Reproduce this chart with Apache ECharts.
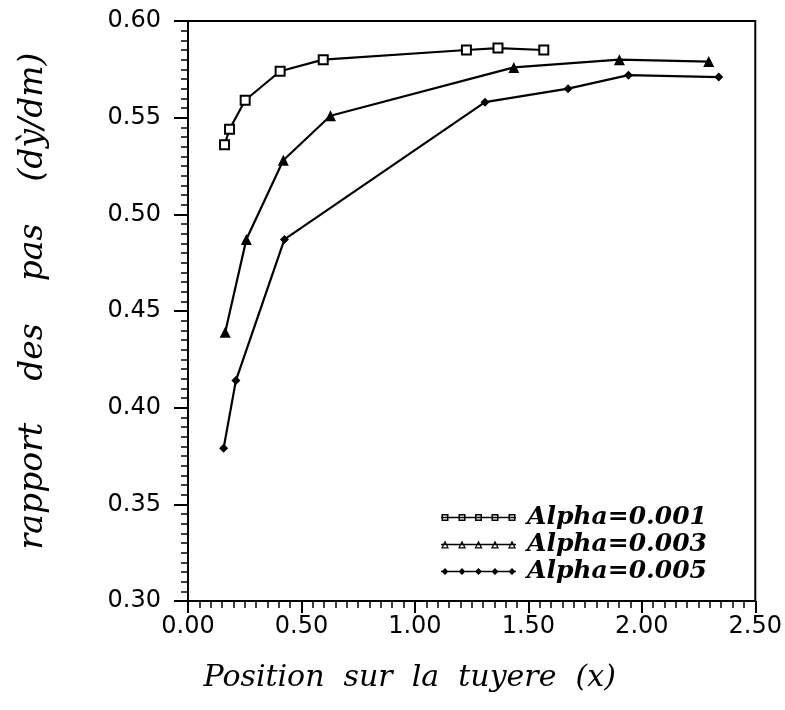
<!DOCTYPE html>
<html>
<head>
<meta charset="utf-8">
<script src="https://cdn.jsdelivr.net/npm/echarts@6/dist/echarts.min.js"></script>
<style>
  html, body { margin: 0; padding: 0; background: #fff; }
  #chart { width: 785px; height: 710px; }
</style>
</head>
<body>
<div id="chart"></div>
<script>
// valeurs
const seriesNames = ["Alpha=0.001", "Alpha=0.003", "Alpha=0.005"];
const alpha001X = [0.161, 0.183, 0.252, 0.406, 0.596, 1.227, 1.366, 1.568];
const alpha001Y = [0.536, 0.544, 0.559, 0.574, 0.580, 0.585, 0.586, 0.585];
const alpha003X = [0.164, 0.257, 0.420, 0.628, 1.436, 1.901, 2.295];
const alpha003Y = [0.439, 0.487, 0.528, 0.551, 0.576, 0.580, 0.579];
const alpha005X = [0.157, 0.211, 0.425, 1.309, 1.675, 1.941, 2.339];
const alpha005Y = [0.379, 0.414, 0.487, 0.558, 0.565, 0.572, 0.571];

const xTitle = "Position  sur  la  tuyere  (x)";
const yTitle = "rapport    des    pas    (dỳ/dm)";

const pairs = (xs, ys) => xs.map((x, i) => [x, ys[i]]);

// icones de legende : trait + 5 marqueurs (boite 75 x 10)
const centers = [4, 21, 37.5, 54, 71];
const anchor = "M0 0 L0.01 0 L0 0.01 Z M75 10 L74.99 10 L75 9.99 Z ";
const lineBar = "M0 4.3 L75 4.3 L75 5.7 L0 5.7 Z ";
const iconSquare = "path://" + anchor + lineBar + centers.map(c =>
  `M${c - 3.5} 1.5 h7 v7 h-7 Z M${c - 2} 3 v4 h4 v-4 Z`).join(" ");
const iconTriangle = "path://" + anchor + lineBar + centers.map(c =>
  `M${c - 4} 9 L${c} 1 L${c + 4} 9 Z M${c - 2} 7.8 L${c + 2} 7.8 L${c} 3.8 Z`).join(" ");
const iconDiamond = "path://" + anchor + lineBar + centers.map(c =>
  `M${c} 1.5 L${c + 3.5} 5 L${c} 8.5 L${c - 3.5} 5 Z`).join(" ");

const chart = echarts.init(document.getElementById("chart"));

const lineCommon = {
  type: "line",
  lineStyle: { color: "#000", width: 2.2 },
  itemStyle: { color: "#000" },
  emphasis: { disabled: true },
  animation: false,
  z: 3,
};

const labelFont = { fontFamily: "DejaVu Sans", fontSize: 24, color: "#000" };

chart.setOption({
  backgroundColor: "#fff",
  grid: {
    left: 188, right: 25, top: 21, height: 580,
    show: true, borderColor: "#000", borderWidth: 2,
  },
  legend: {
    orient: "vertical",
    left: 441,
    top: 505,
    padding: 0,
    itemWidth: 75,
    itemHeight: 10,
    itemGap: 2,
    align: "left",
    itemStyle: { borderWidth: 0 },
    textStyle: {
      fontFamily: "DejaVu Serif",
      fontStyle: "italic",
      fontWeight: "bold",
      fontSize: 25,
      color: "#000",
      padding: [0, 0, 0, 6],
    },
    data: [
      { name: seriesNames[0], icon: iconSquare },
      { name: seriesNames[1], icon: iconTriangle },
      { name: seriesNames[2], icon: iconDiamond },
    ],
  },
  xAxis: {
    type: "value",
    min: 0, max: 2.5, interval: 0.5,
    name: xTitle,
    nameLocation: "middle",
    nameGap: 62,
    nameTextStyle: {
      fontFamily: "DejaVu Serif", fontStyle: "italic", fontSize: 30, color: "#000",
      padding: [0, 124, 0, 0],
    },
    axisLine: { show: true, onZero: false, lineStyle: { color: "#000", width: 2 } },
    axisTick: { show: true, length: 12, lineStyle: { color: "#000", width: 2 } },
    minorTick: { show: true, splitNumber: 10, length: 7, lineStyle: { color: "#000", width: 1.5 } },
    splitLine: { show: false },
    axisLabel: Object.assign({ margin: 14, formatter: v => v.toFixed(2) }, labelFont),
  },
  yAxis: {
    type: "value",
    min: 0.30, max: 0.60, interval: 0.05,
    name: yTitle,
    nameLocation: "middle",
    nameGap: 138,
    nameTextStyle: {
      fontFamily: "DejaVu Serif", fontStyle: "italic", fontSize: 33, color: "#000",
      padding: [0, 0, 0, 20],
    },
    axisLine: { show: true, onZero: false, lineStyle: { color: "#000", width: 2 } },
    axisTick: { show: true, length: 14, lineStyle: { color: "#000", width: 2 } },
    minorTick: { show: true, splitNumber: 10, length: 7, lineStyle: { color: "#000", width: 1.5 } },
    splitLine: { show: false },
    axisLabel: Object.assign({ margin: 27, formatter: v => v.toFixed(2) }, labelFont),
  },
  series: [
    Object.assign({}, lineCommon, {
      name: seriesNames[0],
      data: pairs(alpha001X, alpha001Y),
      symbol: "emptyRect",
      symbolSize: 9,
      itemStyle: { color: "#000", borderWidth: 2.2 },
    }),
    Object.assign({}, lineCommon, {
      name: seriesNames[1],
      data: pairs(alpha003X, alpha003Y),
      symbol: "triangle",
      symbolSize: 11,
    }),
    Object.assign({}, lineCommon, {
      name: seriesNames[2],
      data: pairs(alpha005X, alpha005Y),
      symbol: "diamond",
      symbolSize: 9,
    }),
  ],
});
</script>
</body>
</html>
